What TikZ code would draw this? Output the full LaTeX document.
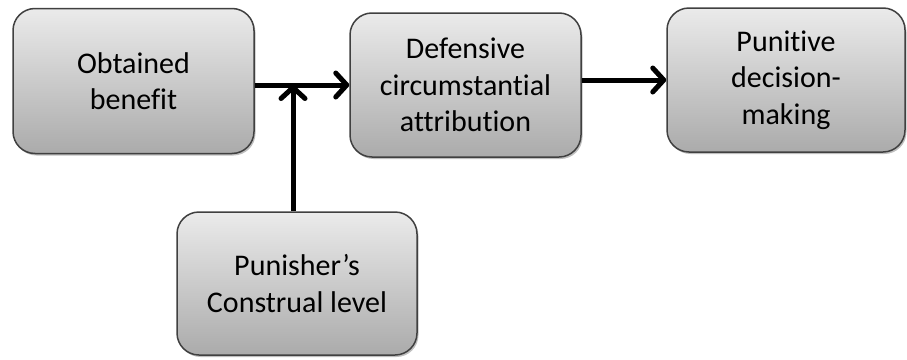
\documentclass[tikz,border=0pt]{standalone}
\usepackage{fontspec}
\setmainfont{Carlito}[Ligatures={NoCommon}]
\usetikzlibrary{arrows.meta,shadows}
\begin{document}
\begin{tikzpicture}[x=1pt,y=-1pt,
  box/.style={rectangle, rounded corners=22pt, draw=black!75, line width=1.5pt,
    top color=black!8, bottom color=black!33, align=center, inner sep=0pt,
    font=\fontsize{30}{36.5}\selectfont,
    drop shadow={shadow xshift=1.5pt, shadow yshift=-2pt, opacity=0.25, fill=black}},
  conn/.style={line width=5pt, -{Straight Barb[length=11pt,width=24pt,round]}}]
\useasboundingbox (0,0) rectangle (907,359);
\node[box, minimum width=241pt, minimum height=145pt] (b1) at (133.5,81) {Obtained\\benefit};
\node[box, minimum width=231pt, minimum height=144pt] (b2) at (465.5,85) {Defensive\\circumstantial\\attribution};
\node[box, minimum width=238pt, minimum height=144pt] (b3) at (786,80) {Punitive\\decision-\\making};
\node[box, minimum width=240pt, minimum height=143pt] (b4) at (297,283.5) {Punisher’s\\Construal level};
\coordinate (j) at (293,85);
\draw[conn] (b1.east |- j) -- (b2.west |- j);
\draw[conn] (b4.north -| j) -- (j);
\draw[conn] (b2.east |- b3.west) -- (b3.west);
\end{tikzpicture}
\end{document}
